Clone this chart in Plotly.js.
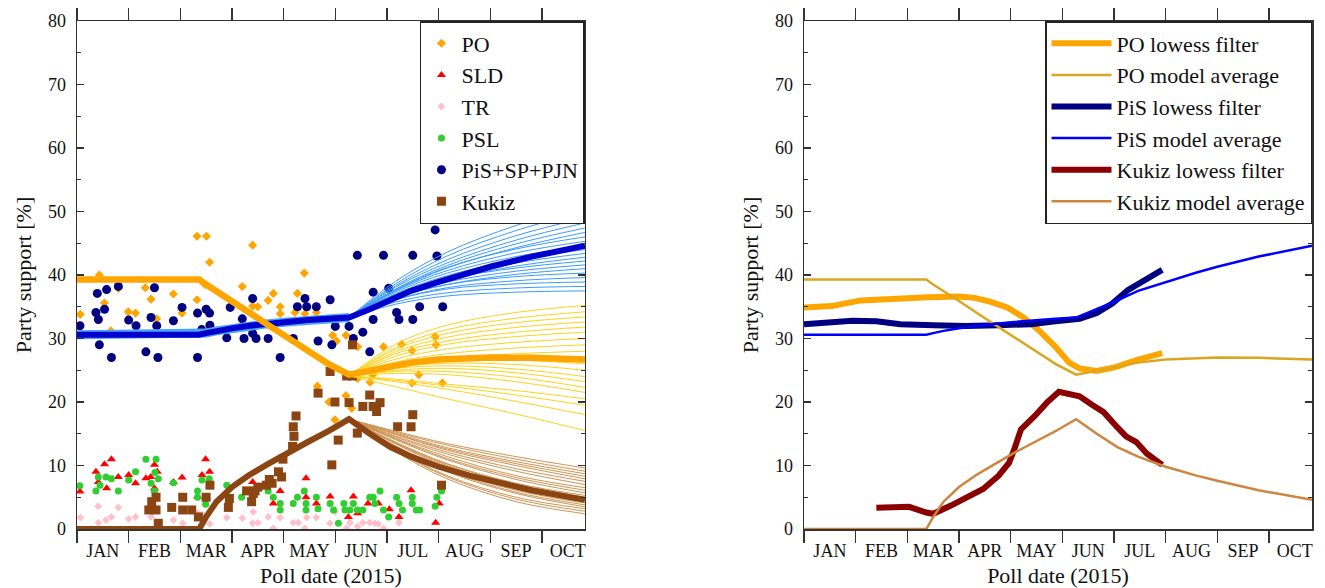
<!DOCTYPE html>
<html><head><meta charset="utf-8">
<script src="https://cdn.plot.ly/plotly-3.0.1.min.js"></script>
<style>html,body{margin:0;padding:0;background:#fff}</style>
</head><body>
<div id="chart" style="width:1325px;height:588px"></div>
<script>
// ---- axis labels ----
const monthLabels = ['JAN','FEB','MAR','APR','MAY','JUN','JUL','AUG','SEP','OCT'];
const monthStarts = [0,30,60,90,120,150,180,210,240,270];
const monthMids = [15,45,75,105,135,165,195,225,255,285];

// ---- poll data (day of year, percent) ----
const poDays = [1.9,13,15.9,19.7,24,29.8,34,39.7,43,46.3,56,61,69.7,69.7,75.2,77,74.3,96,102,102,105,111,114,118,118,126.6,128,132,132.4,139,139.6,146.3,148.5,150.7,149.8,156.2,156.2,159.6,163,163,170.2,171.8,178,188.5,194.6,194.6,198.5,208,208.5,212.2];
const poVals = [33.8,40.0,35.6,31.2,37.9,34.2,34.0,38.0,36.2,33.1,37.0,34.0,36.1,46.1,46.1,42.0,38.5,38.2,44.7,35.1,35.0,36.0,37.1,35.0,33.9,34.1,37.1,40.3,33.9,34.1,22.5,20.0,30.5,29.6,17.2,21.0,30.5,19.0,23.7,28.7,23.1,24.3,28.7,29.1,28.1,23.0,24.3,30.3,29.0,23.0];

const sldDays = [1.7,11,12.4,16,17.2,20,24,30,34,40,42.8,45,46.6,45,56,61,70,72.6,74.7,77,102,114,118,133,133,139,147,157.6,160.5,163,169,175,181.4,187,194,208.3,210.4];
const sldVals = [5.9,9.0,7.4,10.2,6.4,11.0,8.2,8.5,7.2,8.0,8.2,10.1,9.0,6.4,7.4,8.1,5.1,8.5,11.0,9.0,7.4,4.0,6.0,8.0,5.0,4.0,5.1,1.9,5.1,2.5,4.0,4.0,3.1,1.9,6.1,1.0,4.0];

const trDays = [2,12.2,12.4,16.8,20,24,30,34,43,45.3,47,56,61.4,70,73,77.2,87,96,102,102.4,105,111,114,118,125.6,128.5,132.4,133.4,139,147,150,156.6,158.5,163,166,170,173,175,178,187];
const trVals = [1.8,3.6,1.0,1.4,1.9,3.4,1.6,1.9,1.9,2.9,0.8,1.4,0.9,2.5,2.2,0.8,1.8,1.7,0.9,2.7,1.0,1.9,0.1,1.8,1.0,1.0,0.1,1.8,1.8,0.9,2.7,0.1,1.0,0.4,1.0,1.0,0.9,0.8,0.1,1.0];

const pslDays = [1.7,11,12.4,13.4,16.8,20,24,30,34,40,43,45,45.9,45.3,47.2,56,70,70,72.6,74.7,76.8,87,95.6,111,114,118,118,125.6,128,132,133,133,139,140,147,149,151.8,155,155.6,158.5,160.5,162.8,166,170,172,173,176,178,181,185.6,187,189,194.7,194.7,197,199,208,209,211.7];
const pslVals = [6.8,6.0,8.2,6.9,8.2,7.9,6.0,7.7,9.0,11.0,7.2,6.0,11.0,8.9,7.9,7.3,6.0,5.0,7.7,3.9,7.9,6.9,5.0,6.0,5.0,4.0,3.0,4.0,5.0,6.0,4.0,3.0,5.0,3.2,4.0,3.0,0.9,4.0,3.0,3.0,4.0,3.0,3.0,5.0,5.0,4.0,6.0,3.0,1.9,5.0,4.0,3.0,5.0,4.0,3.0,3.0,3.6,5.0,6.0];

const pisDays = [1.7,11,11.8,12.4,13,16,17.2,20,24,30,34.3,40,43,45,46.3,47,56,61,70,70,72.4,75,77,77.2,87,89,96,97,102,102,104,111,118,125.6,128,132.4,133.4,139,140,147,148,150,158,160.5,162.8,166,170,172,172,178,181,185.6,187,195,195,199,208,209,212.4];
const pisVals = [32.0,34.1,37.1,33.0,29.0,34.6,37.7,27.0,38.2,32.9,32.0,27.9,33.3,38.0,32.0,27.0,32.8,34.9,34.0,27.0,31.4,34.6,34.0,32.1,30.1,34.9,33.1,30.0,36.3,30.8,30.0,30.0,27.0,30.0,35.0,36.3,35.0,35.0,29.6,36.1,29.0,31.9,31.9,30.0,43.1,31.0,27.9,37.3,33.0,43.1,37.9,34.1,33.0,43.1,33.0,35.0,47.1,43.0,35.0];

const kukDays = [41.7,43.4,45.9,45.9,47.2,55,61.4,61.4,66.6,70.5,75,77.2,87.9,88.5,98.5,101.4,102.4,103.4,105,110,111.7,113.3,117,118.8,119.6,125.2,126,125.6,127.2,140,147,148,151.7,149.8,156.6,158,160,160,162.8,166,170,172,174,176,186.2,194,195,211.7];
const kukVals = [3.0,4.3,5.0,3.0,0.9,3.4,5.0,3.0,3.0,1.9,5.0,6.9,3.4,4.8,6.0,4.3,5.6,6.0,6.6,6.9,7.8,7.2,9.0,8.2,11.0,13.0,14.6,16.1,17.8,21.4,24.8,10.1,14.0,20.0,24.1,19.9,24.1,29.0,15.1,19.3,21.1,19.3,18.5,19.9,16.1,16.1,18.0,6.9];

// ---- model averages ----
const avgDays = [0,71,75,81,90,100,110,122,134,146,158,170,182,194,210,228,240,264,295];
const poAvg  = [39.3,39.3,38.5,37.5,35.9,34.1,32.3,30.2,28.1,26.0,24.3,24.9,25.6,26.2,26.7,26.95,27.0,26.95,26.7];
const pisAvg = [30.6,30.6,30.85,31.2,31.6,32.0,32.3,32.6,32.9,33.1,33.3,34.6,36.0,37.5,38.9,40.4,41.3,42.9,44.6];
const kukAvg = [0,0,1.9,4.3,6.6,8.5,10.1,12.0,13.7,15.4,17.3,15.0,12.9,11.4,9.8,8.4,7.6,6.1,4.6];

// ---- lowess filters ----
const poLowDays = [0,16,33,52,72,90,99,108,118,127,136,146,154,160,170,181,193,208];
const poLow = [34.9,35.1,36.0,36.3,36.5,36.6,36.4,35.8,34.9,33.4,31.4,28.7,26.2,25.3,24.9,25.5,26.6,27.7];
const pisLowDays = [0,16,28,42,56,75,94,113,132,146,160,170,179,188,198,208];
const pisLow = [32.25,32.5,32.8,32.7,32.25,32.1,31.95,32.1,32.25,32.7,33.1,34.0,35.5,37.6,39.3,40.8];
const kukLowDays = [42,61,71,75,85,94,104,113,119,122,126,134,141,148,155,160,167,174,182,187,193,199,208];
const kukLow = [3.35,3.5,2.6,2.4,3.65,4.8,6.3,8.4,10.4,12.5,15.7,17.8,19.9,21.6,21.3,20.9,19.6,18.4,16.0,14.6,13.7,11.9,10.1];

// ---- forecast fans (each row one realisation, at fanDays) ----
const fanDays = [158,185,215,255,295];
const blueFan = [
 [33.3,35.4,36.7,37.3,37.5],[33.3,35.75,37.2,37.95,38.2],[33.3,36.1,37.8,38.6,38.9],[33.3,36.1,38.0,39.1,39.6],
 [33.3,36.45,38.5,39.75,40.3],[33.3,36.4,38.5,40.1,41.0],[33.3,36.6,38.9,40.6,41.6],[33.3,36.9,39.35,41.1,42.2],
 [33.3,36.6,39.2,41.4,42.8],[33.3,36.8,39.6,41.9,43.4],[33.3,37.05,39.9,42.4,44.0],[33.3,37.3,40.3,42.9,44.6],
 [33.3,37.5,40.7,43.5,45.3],[33.3,37.7,41.2,44.1,46.0],[33.3,37.6,41.1,44.3,46.7],[33.3,37.8,41.5,44.9,47.4],
 [33.3,38.1,41.9,45.5,48.2],[33.3,38.3,42.4,46.2,49.0],[33.3,38.6,43.0,47.0,50.0],[33.3,39.0,43.6,47.8,51.0]
];
const goldFan = [
 [24.1,22.4,20.5,18.1,15.5],[24.1,23.2,22.0,20.1,18.0],[24.1,23.4,22.5,21.1,19.5],[24.1,23.6,22.8,21.8,20.5],
 [24.1,24.5,24.3,23.2,21.5],[24.1,24.8,24.8,23.9,22.3],[24.1,25.0,25.3,24.6,23.2],[24.1,25.3,25.7,25.2,24.0],
 [24.1,25.5,26.1,25.9,25.0],[24.1,25.6,26.5,26.6,26.0],[24.1,25.7,26.8,27.2,27.0],[24.1,25.9,26.9,27.6,28.0],
 [24.1,26.3,27.6,28.5,29.0],[24.1,26.75,28.35,29.4,30.0],[24.1,27.2,29.1,30.3,31.0],[24.1,27.6,29.6,31.0,31.8],
 [24.1,27.9,30.2,31.75,32.6],[24.1,28.3,30.8,32.5,33.4],[24.1,28.6,31.4,33.2,34.2],[24.1,29.1,32.1,34.1,35.2]
];
const brownFan = [
 [17.3,12.2,7.9,4.3,2.4],[17.3,12.4,8.2,4.7,2.8],[17.3,12.5,8.4,5.0,3.2],[17.3,12.9,9.0,5.6,3.5],
 [17.3,13.0,9.2,5.8,3.8],[17.3,13.1,9.4,6.1,4.1],[17.3,13.4,9.8,6.5,4.4],[17.3,13.5,10.0,6.7,4.7],
 [17.3,13.6,10.2,7.0,5.0],[17.3,13.7,10.3,7.2,5.3],[17.3,14.05,10.9,7.8,5.7],[17.3,14.2,11.1,8.1,6.1],
 [17.3,14.3,11.4,8.4,6.5],[17.3,14.5,11.8,9.1,7.0],[17.3,14.65,12.1,9.5,7.5],[17.3,14.9,12.4,10.0,7.9],
 [17.3,14.95,12.6,10.3,8.3],[17.3,15.1,12.8,10.6,8.7],[17.3,15.25,13.2,11.0,9.1],[17.3,15.4,13.45,11.4,9.6]
];

const FONT = 'Liberation Serif, Times New Roman, serif';
const traces = [];

function pts(name, xs, ys, symbol, size, color) {
  traces.push({type:'scatter', mode:'markers', name:name, x:xs, y:ys, xaxis:'x', yaxis:'y',
    legend:'legend', marker:{symbol:symbol, size:size, color:color, line:{width:0}}, hoverinfo:'skip'});
}
pts('PO', poDays, poVals, 'diamond', 7, '#FFA500');
pts('SLD', sldDays, sldVals, 'triangle-up', 8, '#FF0000');
pts('TR', trDays, trVals, 'diamond', 6, '#FFC0CB');
pts('PSL', pslDays, pslVals, 'circle', 7, '#32CD32');
pts('PiS+SP+PJN', pisDays, pisVals, 'circle', 9, '#000080');
pts('Kukiz', kukDays, kukVals, 'square', 9, '#8B4513');

function fan(rows, color) {
  rows.forEach(r => traces.push({type:'scatter', mode:'lines', x:fanDays, y:r, xaxis:'x', yaxis:'y',
    showlegend:false, hoverinfo:'skip', line:{color:color, width:1.0, shape:'spline', smoothing:1}}));
}
fan(blueFan, '#3B9CFF');
fan(goldFan, '#FFD21A');
fan(brownFan, '#CF9455');

function line(xs, ys, color, width, xa, ya, extra) {
  traces.push(Object.assign({type:'scatter', mode:'lines', x:xs, y:ys, xaxis:xa, yaxis:ya,
    showlegend:false, hoverinfo:'skip', line:{color:color, width:width}}, extra||{}));
}
line(avgDays.slice(0,11), pisAvg.slice(0,11), '#4AA3FF', 9, 'x', 'y');
line(avgDays, pisAvg, '#0000CD', 6, 'x', 'y');
line(avgDays, poAvg, '#FFA500', 6.5, 'x', 'y');
line(avgDays, kukAvg, '#8B4513', 6, 'x', 'y');

// right panel
const L2 = {legend:'legend2', showlegend:true};
line(poLowDays, poLow, '#FFA500', 6, 'x2', 'y2', Object.assign({name:'PO lowess filter', legendrank:1}, L2));
line(pisLowDays, pisLow, '#000080', 6, 'x2', 'y2', Object.assign({name:'PiS lowess filter', legendrank:3}, L2));
line(kukLowDays, kukLow, '#8B0000', 6, 'x2', 'y2', Object.assign({name:'Kukiz lowess filter', legendrank:5}, L2));
line(avgDays, poAvg, '#DAA520', 2.5, 'x2', 'y2', Object.assign({name:'PO model average', legendrank:2}, L2));
line(avgDays, pisAvg, '#0000FF', 2.5, 'x2', 'y2', Object.assign({name:'PiS model average', legendrank:4}, L2));
line(avgDays, kukAvg, '#CD853F', 2.5, 'x2', 'y2', Object.assign({name:'Kukiz model average', legendrank:6}, L2));

// invisible carriers so the month-label axes are drawn
line([0,295], [-10,-10], 'rgba(0,0,0,0)', 0.1, 'x3', 'y');
line([0,295], [-10,-10], 'rgba(0,0,0,0)', 0.1, 'x4', 'y2');

const axCol = '#333';
function xMain(domain) {
  return {domain:domain, range:[0,295], showgrid:false, zeroline:false, showline:true, linecolor:axCol,
    linewidth:1.5, mirror:'ticks', ticks:'outside', ticklen:12, tickwidth:1.5, tickcolor:axCol,
    tickmode:'array', tickvals:monthStarts, showticklabels:false, fixedrange:true};
}
function xLab(over, anchor) {
  return {overlaying:over, anchor:anchor, range:[0,295], showgrid:false, zeroline:false, showline:false,
    tickmode:'array', tickvals:monthMids, ticktext:monthLabels, ticks:'outside', ticklen:5,
    tickcolor:'rgba(0,0,0,0)', tickfont:{family:FONT, size:18, color:'#111'},
    title:{text:'Poll date (2015)', font:{family:FONT, size:22, color:'#111'}, standoff:8}, fixedrange:true};
}
function yAx(anchor) {
  return {anchor:anchor, domain:[0,1], range:[0,80], showgrid:false, zeroline:false, showline:true,
    linecolor:axCol, linewidth:1.5, mirror:'ticks', ticks:'inside', ticklen:7, tickwidth:1.5, tickcolor:axCol,
    tickmode:'array', tickvals:[0,10,20,30,40,50,60,70,80], ticklabelstandoff:6,
    minor:{tickmode:'array', tickvals:[5,15,25,35,45,55,65,75], ticks:'inside', ticklen:4, tickwidth:1.2, tickcolor:axCol},
    tickfont:{family:FONT, size:18, color:'#111'},
    title:{text:'Party support [%]', font:{family:FONT, size:22, color:'#111'}, standoff:10}, fixedrange:true};
}

const legBase = {xanchor:'right', yanchor:'top', y:1, bgcolor:'#fff', bordercolor:'#222', borderwidth:1.5,
  font:{family:FONT, size:22, color:'#111'}, tracegroupgap:0};

const layout = {
  width:1325, height:588, margin:{l:77, r:13, t:21, b:59}, paper_bgcolor:'#fff', plot_bgcolor:'#fff',
  showlegend:true,
  xaxis: Object.assign(xMain([0,0.4113]), {anchor:'y'}),
  xaxis2: Object.assign(xMain([0.5887,1]), {anchor:'y2'}),
  xaxis3: xLab('x','y'),
  xaxis4: xLab('x2','y2'),
  yaxis: yAx('x'),
  yaxis2: yAx('x2'),
  legend: Object.assign({}, legBase, {x:0.4113, itemwidth:30}),
  legend2: Object.assign({}, legBase, {x:1, itemwidth:60, traceorder:'normal'}),
};

Plotly.newPlot('chart', traces, layout, {staticPlot:true, displayModeBar:false});
</script>
</body></html>
